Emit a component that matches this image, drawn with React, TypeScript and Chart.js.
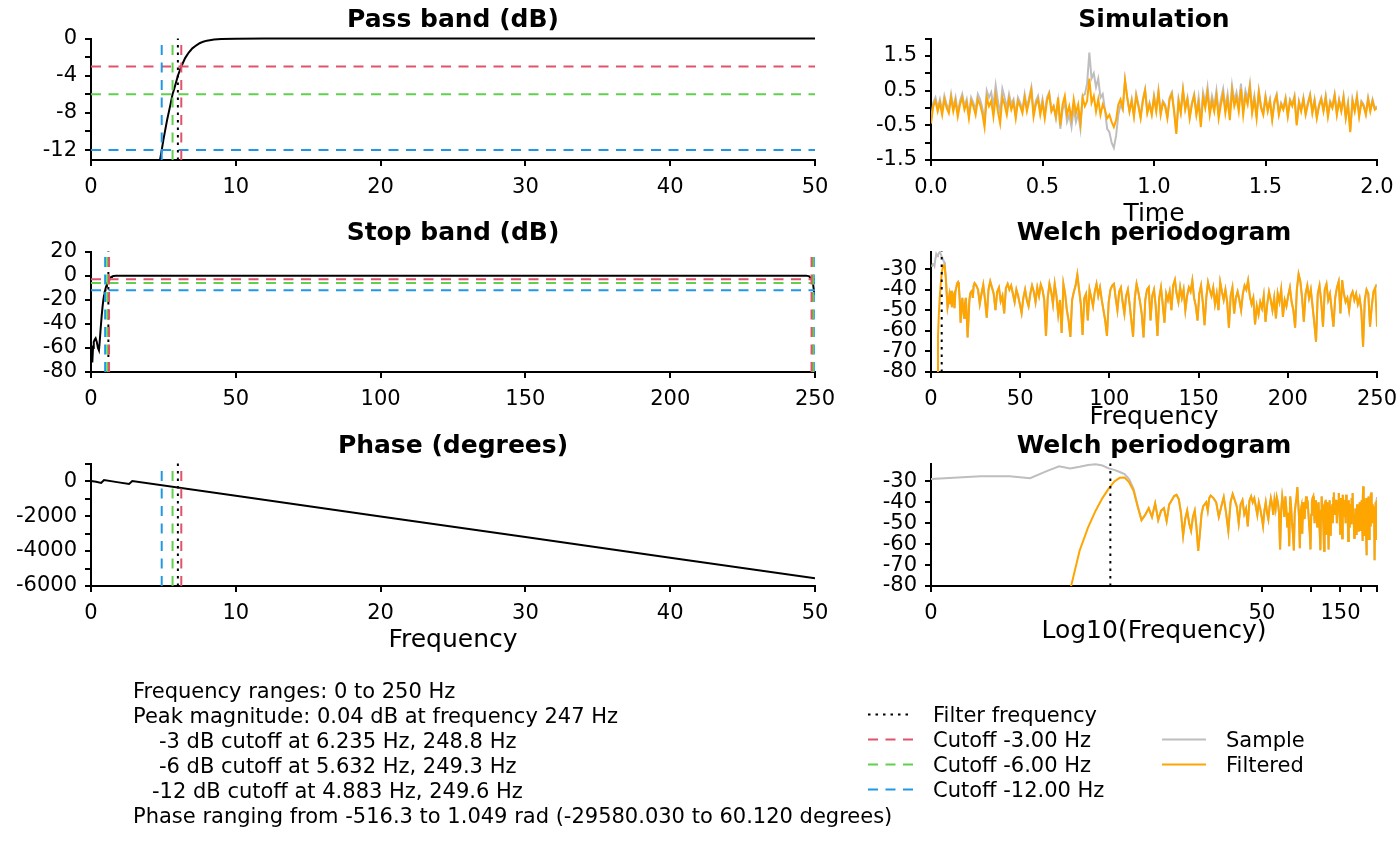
import React, { useEffect, useRef } from "react";
import { Chart, registerables } from "chart.js";
Chart.register(...registerables);

const FONT = "'DejaVu Sans', sans-serif";
const RED = "#DF536B";
const GREEN = "#61D04F";
const BLUE = "#2297E6";
const GRAY = "#BEBEBE";
const ORANGE = "#FFA500";
const DASH = [10, 7.5];
const DOT = [2.5, 5];

// ---- Filter response (dB) ----
const respFreq = [0, 0.25, 0.45, 0.7, 0.95, 1.3, 1.6, 2.0, 2.4, 2.75, 3.0, 3.3, 3.7, 4.0, 4.3, 4.5, 4.7, 4.883, 5.0, 5.25, 5.5, 5.632, 5.75, 6.0, 6.235, 6.5, 6.75, 7.0, 7.25, 7.5, 7.75, 8.0, 8.5, 9, 10, 12, 20, 50, 100, 200, 240, 247, 248, 248.8, 249.3, 249.6, 249.8];
const respDb = [-58, -66, -72, -60, -55, -53, -52, -55, -60, -62, -55, -45, -33, -25.5, -19.5, -16.5, -13.7, -12, -10.9, -8.8, -7.0, -6, -5.4, -4.0, -3, -2.1, -1.5, -1.05, -0.75, -0.5, -0.33, -0.22, -0.1, -0.05, -0.02, 0, 0, 0, 0.01, 0.02, 0.03, 0.04, -0.6, -3, -6, -12, -16];

// ---- Phase (degrees) ----
const phaseFreq = [0, 0.35, 0.7, 0.9, 1.8, 2.63, 2.85, 10, 20, 30, 40, 50];
const phaseDeg = [0, -40, -110, 60, -60, -170, 0, -842, -2022, -3201, -4381, -5560];

// ---- Cutoffs ----
const filterFreq = 6;
const cutoffLevels = [-3, -6, -12];
const cutoffColors = [RED, GREEN, BLUE];
const cutoffLow = [6.235, 5.632, 4.883];
const cutoffHigh = [248.8, 249.3, 249.6];

// ---- Simulation ----
const simTime = Array.from({ length: 201 }, (_, i) => i / 100);
const simFiltered = [
  -0.45, 0.05, 0.2, -0.1, 0.15, -0.2, 0.25, 0.0, -0.15, 0.3,
  -0.1, 0.2, -0.25, 0.1, 0.3, -0.05, 0.15, -0.3, 0.2, 0.05,
  -0.2, 0.25, 0.1, -0.15, -0.55, 0.3, 0.05, 0.2, -0.25, 0.35,
  -0.1, -0.45, 0.3, 0.1, -0.2, 0.25, -0.05, 0.15, -0.3, 0.2,
  0.05, -0.15, 0.3, -0.1, 0.2, 0.5, -0.25, 0.1, 0.25, -0.2,
  0.15, -0.3, 0.2, 0.4, -0.1, 0.05, -0.25, 0.3, -0.5, 0.1,
  0.35, -0.2, 0.05, -0.3, 0.25, -0.15, 0.1, -0.45, 0.3, 0.05,
  0.2, 0.85, 0.15, 0.35, -0.1, 0.25, -0.2, 0.1, -0.05, -0.3,
  -0.2, -0.4, -0.55, -0.35, 0.1, 0.25, 0.0, 0.8, 0.3, -0.1,
  0.2, -0.25, 0.35, 0.05, -0.3, 0.2, 0.5, -0.15, 0.1, -0.2,
  0.3, -0.1, 0.45, -0.2, 0.15, 0.05, -0.3, 0.25, 0.4, -0.1,
  -0.75, 0.2, -0.15, 0.5, -0.05, 0.25, -0.3, 0.1, 0.35, -0.2,
  0.15, -0.55, 0.3, 0.0, 0.45, -0.2, 0.2, -0.1, 0.35, -0.3,
  0.1, 0.4, -0.15, 0.25, -0.35, 0.5, 0.05, 0.3, -0.1, 0.55,
  -0.2, 0.35, 0.1, 0.6, -0.15, 0.25, -0.3, 0.45, 0.0, -0.2,
  0.3, -0.1, 0.2, -0.35, 0.15, 0.35, -0.2, 0.1, -0.05, 0.25,
  -0.25, 0.2, 0.05, 0.3, -0.5, 0.15, -0.1, 0.25, -0.2, 0.1,
  0.35, -0.15, 0.2, -0.3, 0.05, 0.25, -0.1, 0.3, -0.25, 0.15,
  0.0, 0.35, -0.2, 0.2, -0.1, 0.3, -0.3, 0.1, -0.7, 0.2,
  -0.1, 0.3, -0.25, 0.15, 0.05, -0.2, 0.25, -0.1, 0.2, -0.05,
  0.0,
];
const simSample = [
  -0.35, 0.15, 0.3, 0.0, 0.25, -0.1, 0.35, 0.1, -0.05, 0.4,
  0.0, 0.3, -0.15, 0.2, 0.4, 0.05, 0.25, -0.2, 0.3, 0.15,
  -0.05, 0.4, 0.25, 0.0, -0.35, 0.5, 0.3, 0.45, 0.05, 0.65,
  0.2, -0.15, 0.55, 0.3, 0.0, 0.4, 0.1, 0.25, -0.2, 0.3,
  0.15, -0.05, 0.4, 0.0, 0.3, 0.6, -0.15, 0.2, 0.35, -0.1,
  0.25, -0.2, 0.3, 0.45, -0.05, 0.05, -0.3, 0.2, -0.6, -0.05,
  0.15, -0.4, -0.2, -0.55, 0.0, -0.4, -0.15, -0.6, 0.35, 0.4,
  0.7, 1.6, 0.85, 1.0, 0.6, 0.85, 0.3, 0.4, -0.05, -0.6,
  -0.7, -1.0, -1.15, -0.8, -0.2, 0.1, -0.05, 0.8, 0.3, -0.1,
  0.25, -0.2, 0.4, 0.1, -0.25, 0.25, 0.55, -0.1, 0.15, -0.15,
  0.35, -0.05, 0.5, -0.15, 0.2, 0.1, -0.25, 0.3, 0.45, -0.05,
  -0.7, 0.25, -0.1, 0.55, 0.0, 0.3, -0.25, 0.15, 0.4, -0.15,
  0.3, -0.4, 0.45, 0.15, 0.6, -0.05, 0.35, 0.05, 0.5, -0.15,
  0.25, 0.55, 0.0, 0.4, -0.2, 0.65, 0.2, 0.45, 0.05, 0.7,
  -0.05, 0.5, 0.25, 0.7, -0.05, 0.35, -0.2, 0.5, 0.05, -0.15,
  0.35, -0.05, 0.25, -0.3, 0.2, 0.4, -0.15, 0.15, 0.0, 0.3,
  -0.2, 0.25, 0.1, 0.35, -0.45, 0.2, -0.05, 0.3, -0.15, 0.15,
  0.4, -0.1, 0.25, -0.25, 0.1, 0.3, -0.05, 0.35, -0.2, 0.2,
  0.05, 0.4, -0.15, 0.25, -0.05, 0.35, -0.25, 0.15, -0.65, 0.25,
  -0.05, 0.35, -0.2, 0.2, 0.1, -0.15, 0.3, -0.05, 0.25, 0.0,
  0.05,
];

// ---- Welch periodogram (dB) ----
const welchDf = 500 / 1024;
const welchFreqLow = Array.from({ length: 50 }, (_, i) => (i + 1) * welchDf);
const welchFreqHigh = Array.from({ length: 231 }, (_, i) => (52 + 2 * i) * welchDf);
const welchFreq = [...welchFreqLow, ...welchFreqHigh];
const welchFilteredLow = [
  -125, -118, -110, -103, -96, -89, -82, -63, -52, -44,
  -38, -33.5, -30, -28.3, -28.2, -30.5, -34.5, -42, -48.5, -46,
  -42.8, -47, -40.5, -48.5, -44, -42.8, -49, -41, -39, -37,
  -36.4, -38.4, -45, -56, -48, -44, -50, -53.6, -47, -44,
  -52, -63.2, -55, -45.6, -42, -41, -40, -44, -38, -36.8,
];
const welchFilteredHigh = [
  -38, -40, -47, -42, -37.6, -45, -53.6, -40, -36, -39,
  -42, -50, -41, -39, -45.6, -43, -51.5, -39.2, -37.2, -40,
  -38, -42, -46, -40, -43, -47, -51.3, -44, -40, -45,
  -48, -42, -38, -41, -46, -39, -43, -37.5, -40, -45,
  -62.5, -44, -37.2, -41, -47, -37.2, -43, -52, -45, -61,
  -37.2, -42, -50, -55, -63, -45, -41, -38, -32.7, -40,
  -47, -62, -44, -42, -55, -40, -44, -48, -41, -37.2,
  -43, -39, -45, -50, -55, -62.5, -46, -40, -38, -37.2,
  -44, -50, -41, -39, -46, -51.6, -43, -40, -47, -55,
  -62.9, -44, -37.2, -41, -46, -52, -63.2, -45, -40, -38.8,
  -55, -43, -40, -48, -62.5, -44, -39, -47, -56, -42,
  -45, -41, -50, -38, -35.3, -42, -46, -38.8, -44, -40,
  -50, -43, -39, -41, -35.6, -44, -48, -55, -42, -38,
  -46, -57.2, -44, -36.4, -40, -43, -39, -47, -42, -50,
  -36.4, -41, -45, -40, -46, -58.5, -43, -39, -51.6, -44,
  -41, -45, -50, -42, -38, -40, -35.6, -43, -47, -44,
  -56.9, -48, -52, -46, -49, -43, -55.6, -47, -41, -45,
  -50, -44, -54, -42, -46, -40, -53.2, -45, -48, -43,
  -39, -46, -50, -58.5, -40, -32.4, -36, -44, -55.6, -42,
  -38, -44, -40, -48, -56, -65.3, -42, -38, -46, -58,
  -40, -37.2, -45, -42, -50, -58, -44, -39, -36, -51.6,
  -35.3, -42, -46, -44, -50, -43, -41, -45, -42, -47,
  -44, -50, -67.7, -45, -40, -42, -58, -48, -41, -39, -58,
];
const welchFiltered = [...welchFilteredLow, ...welchFilteredHigh];
const welchSampleLow = [
  -28.9, -27.6, -27.5, -28.5, -25.2, -22.8, -23.8, -23, -22.2, -21.8,
  -22.4, -23.8, -24.5, -25.5, -26.5, -29, -33.5, -41.5,
];
const welchSampleEnd = -37.5;
const welchSample = [...welchSampleLow, ...welchFiltered.slice(welchSampleLow.length, -1), welchSampleEnd];

// ---- Axis ticks ----
const passTicksY = [-12, -10, -8, -6, -4, -2, 0];
const passLabelsY = ["-12", "", "-8", "", "-4", "", "0"];
const freq50Ticks = [0, 10, 20, 30, 40, 50];
const freq250Ticks = [0, 50, 100, 150, 200, 250];
const stopTicksY = [-80, -60, -40, -20, 0, 20];
const phaseTicksY = [-6000, -5000, -4000, -3000, -2000, -1000, 0, 1000];
const phaseLabelsY = ["-6000", "", "-4000", "", "-2000", "", "0", ""];
const simTicksX = [0, 0.5, 1, 1.5, 2];
const simLabelsX = ["0.0", "0.5", "1.0", "1.5", "2.0"];
const simTicksY = [-1.5, -1, -0.5, 0, 0.5, 1, 1.5, 2];
const simLabelsY = ["-1.5", "", "-0.5", "", "0.5", "", "1.5", ""];
const welchTicksY = [-80, -70, -60, -50, -40, -30];
const logTicksX = [welchDf, 50, 100, 150, 200, 250];
const logLabelsX = ["0", "50", "", "150", "", ""];

// ---- layout helpers ----
const PL = 90, PT = 20, PR = 40, PB = 60;
type Rect = { l: number; t: number; r: number; b: number };

function mkScale(axis: "x" | "y", o: { type?: string; min: number; max: number; ticks: number[]; labels?: string[] }) {
  const { type = "linear", min, max, ticks, labels } = o;
  return {
    type,
    min,
    max,
    position: axis === "x" ? "bottom" : "left",
    afterFit: (s: any) => {
      if (axis === "x") s.height = PB;
      else s.width = PL;
    },
    afterBuildTicks: (s: any) => {
      s.ticks = ticks.map((v) => ({ value: v }));
    },
    ticks: {
      autoSkip: false,
      maxRotation: 0,
      minRotation: 0,
      padding: axis === "x" ? 9 : 8,
      color: "#000",
      font: { family: FONT, size: 21 },
      callback: (v: any, i: number) => (labels ? labels[i] : String(v)),
    },
    grid: {
      display: true,
      drawOnChartArea: false,
      drawTicks: true,
      tickLength: 6,
      tickWidth: 2,
      tickColor: "#000",
      color: "#000",
      lineWidth: 2,
    },
    border: { display: true, color: "#000", width: 2 },
  };
}

const line = (xs: number[], ys: number[], color: string, width = 2, dash: number[] = []) => ({
  type: "line",
  data: xs.map((x, i) => ({ x, y: ys[i] })),
  borderColor: color,
  backgroundColor: color,
  borderWidth: width,
  borderDash: dash,
  pointRadius: 0,
  fill: false,
  tension: 0,
  clip: { left: 0, top: 3, right: 0, bottom: 0 },
});
const vline = (x: number, y0: number, y1: number, color: string, dash: number[]) => line([x, x], [y0, y1], color, 2, dash);
const hline = (y: number, x0: number, x1: number, color: string, dash: number[]) => line([x0, x1], [y, y], color, 2, dash);

function mkConfig(x: any, y: any, datasets: any[]) {
  return {
    type: "line",
    data: { datasets },
    options: {
      responsive: false,
      maintainAspectRatio: false,
      animation: false,
      events: [],
      font: { family: FONT, size: 21 },
      layout: { padding: { left: 0, top: PT, right: PR, bottom: 0 } },
      plugins: { legend: { display: false }, tooltip: { enabled: false }, title: { display: false } },
      scales: { x, y },
    },
  };
}

function cutoffVLines(freqs: number[], y0: number, y1: number) {
  return freqs.map((f, i) => vline(f, y0, y1, cutoffColors[i], DASH));
}
function cutoffHLines(x0: number, x1: number) {
  return cutoffLevels.map((lv, i) => hline(lv, x0, x1, cutoffColors[i], DASH));
}

function Panel({ rect, build }: { rect: Rect; build: () => any }) {
  const ref = useRef<HTMLCanvasElement>(null);
  const w = rect.r - rect.l + PL + PR;
  const h = rect.b - rect.t + PT + PB;
  useEffect(() => {
    const chart = new Chart(ref.current as HTMLCanvasElement, build());
    return () => chart.destroy();
  }, []);
  return (
    <canvas
      ref={ref}
      width={w}
      height={h}
      style={{ position: "absolute", left: rect.l - PL, top: rect.t - PT, width: w, height: h }}
    />
  );
}

const LEFT = { l: 91, r: 815 };
const RIGHT = { l: 931, r: 1377 };
const ROW1 = { t: 38, b: 160 };
const ROW2 = { t: 251, b: 372 };
const ROW3 = { t: 463, b: 586 };

const passMin = -13.07;

const buildPass = () =>
  mkConfig(
    mkScale("x", { min: 0, max: 50, ticks: freq50Ticks }),
    mkScale("y", { min: passMin, max: 0, ticks: passTicksY, labels: passLabelsY }),
    [
      ...cutoffVLines(cutoffLow, passMin, 0),
      vline(filterFreq, passMin, 0, "#000", DOT),
      ...cutoffHLines(0, 50),
      line(respFreq, respDb, "#000", 2),
    ]
  );

const buildStop = () =>
  mkConfig(
    mkScale("x", { min: 0, max: 250, ticks: freq250Ticks }),
    mkScale("y", { min: -80, max: 20, ticks: stopTicksY }),
    [
      ...cutoffVLines(cutoffHigh, -80, 20),
      ...cutoffVLines(cutoffLow, -80, 20),
      vline(filterFreq, -80, 20, "#000", DOT),
      ...cutoffHLines(0, 250),
      line(respFreq, respDb, "#000", 2),
    ]
  );

const buildPhase = () =>
  mkConfig(
    mkScale("x", { min: 0, max: 50, ticks: freq50Ticks }),
    mkScale("y", { min: -6000, max: 1000, ticks: phaseTicksY, labels: phaseLabelsY }),
    [
      ...cutoffVLines(cutoffLow, -6000, 1000),
      vline(filterFreq, -6000, 1000, "#000", DOT),
      line(phaseFreq, phaseDeg, "#000", 2),
    ]
  );

const buildSim = () =>
  mkConfig(
    mkScale("x", { min: 0, max: 2, ticks: simTicksX, labels: simLabelsX }),
    mkScale("y", { min: -1.5, max: 2, ticks: simTicksY, labels: simLabelsY }),
    [line(simTime, simFiltered, ORANGE, 2), line(simTime, simSample, GRAY, 2)]
  );

const welchMax = -21.5;
const buildWelch = () =>
  mkConfig(
    mkScale("x", { min: 0, max: 250, ticks: freq250Ticks }),
    mkScale("y", { min: -80, max: welchMax, ticks: welchTicksY }),
    [
      vline(filterFreq, -80, welchMax, "#000", DOT),
      line(welchFreq, welchFiltered, ORANGE, 2),
      line(welchFreq, welchSample, GRAY, 2),
    ]
  );

const buildWelchLog = () =>
  mkConfig(
    mkScale("x", { type: "logarithmic", min: welchDf, max: 250, ticks: logTicksX, labels: logLabelsX }),
    mkScale("y", { min: -80, max: welchMax, ticks: welchTicksY }),
    [
      vline(filterFreq, -80, welchMax, "#000", DOT),
      line(welchFreq, welchFiltered, ORANGE, 2),
      line(welchFreq, welchSample, GRAY, 2),
    ]
  );

const infoLines: [number, string][] = [
  [133, "Frequency ranges: 0 to 250 Hz"],
  [133, "Peak magnitude: 0.04 dB at frequency 247 Hz"],
  [159, "-3 dB cutoff at 6.235 Hz, 248.8 Hz"],
  [159, "-6 dB cutoff at 5.632 Hz, 249.3 Hz"],
  [152, "-12 dB cutoff at 4.883 Hz, 249.6 Hz"],
  [133, "Phase ranging from -516.3 to 1.049 rad (-29580.030 to 60.120 degrees)"],
];
const legendFilter = [
  { label: "Filter frequency", color: "#000", dash: "2.5 5" },
  { label: "Cutoff -3.00 Hz", color: RED, dash: "10 7.5" },
  { label: "Cutoff -6.00 Hz", color: GREEN, dash: "10 7.5" },
  { label: "Cutoff -12.00 Hz", color: BLUE, dash: "10 7.5" },
];
const legendSignal = [
  { label: "Sample", color: GRAY },
  { label: "Filtered", color: ORANGE },
];

function Overlay() {
  const cL = (LEFT.l + LEFT.r) / 2;
  const cR = (RIGHT.l + RIGHT.r) / 2;
  const title = { fontFamily: FONT, fontSize: 25, fontWeight: "bold" as const, textAnchor: "middle" as const };
  const lab = { fontFamily: FONT, fontSize: 25, textAnchor: "middle" as const };
  const txt = { fontFamily: FONT, fontSize: 21 };
  return (
    <svg width={1400} height={866} style={{ position: "absolute", left: 0, top: 0, pointerEvents: "none" }}>
      <text x={cL} y={27} {...title}>Pass band (dB)</text>
      <text x={cL} y={240} {...title}>Stop band (dB)</text>
      <text x={cL} y={452.5} {...title}>Phase (degrees)</text>
      <text x={cR} y={27} {...title}>Simulation</text>
      <text x={cR} y={240} {...title}>Welch periodogram</text>
      <text x={cR} y={452.5} {...title}>Welch periodogram</text>
      <text x={cL} y={647} {...lab}>Frequency</text>
      <text x={cR} y={221} {...lab}>Time</text>
      <text x={cR} y={424} {...lab}>Frequency</text>
      <text x={cR} y={638} {...lab}>Log10(Frequency)</text>
      {infoLines.map(([x, s], i) => (
        <text key={"i" + i} x={x} y={697.6 + 25 * i} {...txt}>{s}</text>
      ))}
      {legendFilter.map((d, i) => (
        <g key={"lf" + i}>
          <line x1={868} x2={913} y1={714.5 + 25 * i} y2={714.5 + 25 * i} stroke={d.color} strokeWidth={2} strokeDasharray={d.dash} />
          <text x={933} y={722.3 + 25 * i} {...txt}>{d.label}</text>
        </g>
      ))}
      {legendSignal.map((d, i) => (
        <g key={"ls" + i}>
          <line x1={1162} x2={1206} y1={739.5 + 25 * i} y2={739.5 + 25 * i} stroke={d.color} strokeWidth={2} />
          <text x={1226} y={747.3 + 25 * i} {...txt}>{d.label}</text>
        </g>
      ))}
    </svg>
  );
}

export default function App() {
  return (
    <div style={{ position: "fixed", left: 0, top: 0, width: 1400, height: 866, background: "#fff", overflow: "hidden" }}>
      <Panel rect={{ ...LEFT, ...ROW1 }} build={buildPass} />
      <Panel rect={{ ...LEFT, ...ROW2 }} build={buildStop} />
      <Panel rect={{ ...LEFT, ...ROW3 }} build={buildPhase} />
      <Panel rect={{ ...RIGHT, ...ROW1 }} build={buildSim} />
      <Panel rect={{ ...RIGHT, ...ROW2 }} build={buildWelch} />
      <Panel rect={{ ...RIGHT, ...ROW3 }} build={buildWelchLog} />
      <Overlay />
    </div>
  );
}
